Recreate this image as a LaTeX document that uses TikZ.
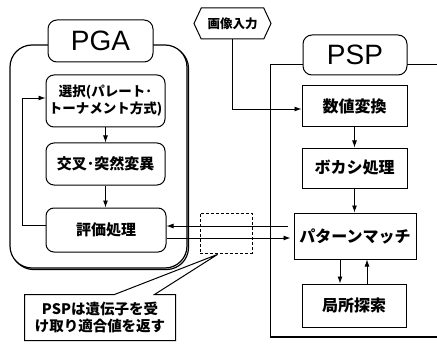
\documentclass[tikz,border=0pt]{standalone}
\usepackage{fontspec}
\setmainfont{Noto Sans CJK JP}
\newfontfamily\latf{Liberation Sans}
\usetikzlibrary{arrows.meta,calc,shapes.symbols}

\begin{document}
\begin{tikzpicture}[x=1pt,y=-1pt,
  line width=1pt,
  arr/.style={-{Latex[length=7pt,width=5pt]}, line width=0.9pt},
  rbox/.style={draw, rounded corners=8pt, fill=white, inner sep=0pt, align=center, font=\bfseries\fontsize{15}{18}\selectfont},
  sbox/.style={draw, fill=white, inner sep=0pt, align=center, font=\bfseries\fontsize{16}{19}\selectfont},
  titlebox/.style={draw, rounded corners=9pt, fill=white, inner sep=0pt, font=\latf\fontsize{28}{30}\selectfont},
  outerbox/.style={draw, line width=1.2pt, rounded corners=22pt, minimum width=177pt, minimum height=223pt, inner sep=0pt},
]
\useasboundingbox (0,0) rectangle (437,345);

% PGA block
\node[outerbox] (pgashadow) at (100,158) {};
\node[outerbox, fill=white] (pga) at (98.5,156.5) {};
\node[titlebox, minimum width=105pt, minimum height=42pt] (pgat) at (100.5,41) {PGA};

\node[rbox, minimum width=119pt, minimum height=52pt, font=\bfseries\fontsize{13.5}{17}\selectfont] (sel) at (105.5,101) {選択(パレート･\\トーナメント方式)};
\node[rbox, minimum width=119pt, minimum height=42pt] (cross) at (105.5,164) {交叉･突然変異};
\node[rbox, minimum width=120pt, minimum height=44pt] (eval) at (106,230) {評価処理};

\draw[arr] (sel.south) -- (sel.south |- cross.north);
\draw[arr] (cross.south) -- (cross.south |- eval.north);
\draw[arr] ($(eval.west)+(0,-5)$) -- ++(-23,0) |- ($(sel.west)+(0,-3)$);

% image input
\node[draw, signal, signal to=west and east, signal pointer angle=130, fill=white, inner sep=2pt, minimum width=77pt, minimum height=31pt, font=\bfseries\fontsize{12.5}{14}\selectfont] (img) at (232.5,23.5) {画像入力};

% PSP block
\draw[line width=1pt] (445,65) -- (270,65) -- (270,337);
\draw[line width=1.8pt] (270,337) -- (445,337);
\node[titlebox, minimum width=104pt, minimum height=40pt] (pspt) at (355,55) {PSP};
\node[sbox, minimum width=105pt, minimum height=41pt] (num) at (354.5,106.5) {数値変換};
\node[sbox, minimum width=105pt, minimum height=40pt] (boka) at (354.5,168) {ボカシ処理};
\node[sbox, minimum width=122pt, minimum height=46pt] (pat) at (355,236) {パターンマッチ};
\node[sbox, minimum width=104pt, minimum height=43pt] (loc) at (354,305.5) {局所探索};

\draw[arr] (img.south) |- ($(num.west)+(0,2.5)$);
\draw[arr] (num.south) -- (num.south |- boka.north);
\draw[arr] (boka.south) -- (boka.south |- pat.north);
\draw[arr] ([xshift=-15pt]pat.south) -- ([xshift=-14pt]loc.north);
\draw[arr] ([xshift=13pt]loc.north) -- ([xshift=12pt]pat.south);

% exchange between PGA and PSP
\draw[arr] ($(pat.west)+(-6,-10)$) -- ($(eval.east)+(0,-4)$);
\draw[arr] ($(eval.east)+(0,8)$) -- ($(pat.west)+(-3,2)$);
\node[draw, dash pattern=on 3pt off 2pt, line width=0.8pt, minimum width=52pt, minimum height=40pt, inner sep=0pt] (dash) at (226,233) {};

% callout
\node[font=\bfseries\fontsize{14.5}{17}\selectfont, align=center, minimum width=150pt, minimum height=45pt, inner sep=0pt] (note) at (100,317.5) {PSPは遺伝子を受\\け取り適合値を返す};
\draw (note.north west) -- ($(note.north west)+(90,0)$) -- ($(dash.south west)+(18,1)$) -- ($(note.north west)+(130,0)$) -- (note.north east) -- (note.south east) -- (note.south west) -- cycle;
\end{tikzpicture}
\end{document}
